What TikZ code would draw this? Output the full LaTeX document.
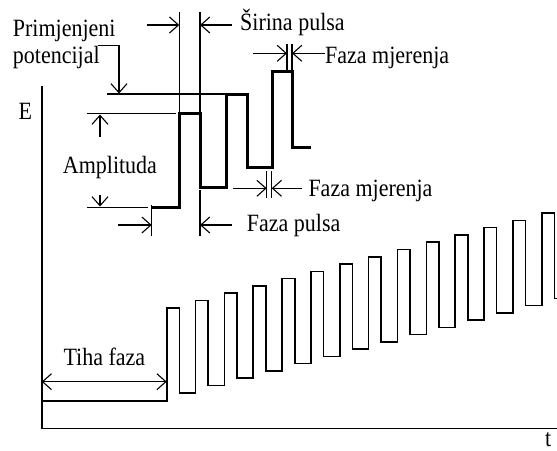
\documentclass[tikz,border=0pt]{standalone}
\usepackage{fontspec}
\usepackage{graphicx}
\setmainfont{Liberation Serif}
\usetikzlibrary{arrows.meta}
\newcommand{\tallt}[1]{\scalebox{1}[1.13]{#1}}
\begin{document}
\begin{tikzpicture}[x=1pt,y=-1pt,
  thinln/.style={line width=1.1pt},
  midln/.style={line width=1.6pt},
  thickln/.style={line width=3pt},
  arr/.style={thinln,-{Straight Barb[length=9pt,width=16pt,line width=1.1pt]}},
  darr/.style={thinln,{Straight Barb[length=9pt,width=16pt,line width=1.1pt]}-{Straight Barb[length=9pt,width=16pt,line width=1.1pt]}},
  lbl/.style={anchor=base west,inner sep=0pt,font=\fontsize{22}{26}\selectfont}]
\useasboundingbox (0,0) rectangle (557,450);

% labels
\node[lbl] (prim) at (12.7,36.7) {\tallt{Primjenjeni}};
\node[lbl] (pot) at (12.7,63.5) {\tallt{potencijal}};
\node[lbl] (sir) at (240,30.7) {\tallt{Širina pulsa}};
\node[lbl] (fm1) at (325,63.3) {\tallt{Faza mjerenja}};
\node[lbl] (amp) at (62.7,173.3) {\tallt{Amplituda}};
\node[lbl] (fm2) at (308.3,196.7) {\tallt{Faza mjerenja}};
\node[lbl] (fp) at (246.7,231.7) {\tallt{Faza pulsa}};
\node[lbl] (tiha) at (63.3,365) {\tallt{Tiha faza}};
\node[lbl] (E) at (18.3,119.3) {\tallt{E}};
\node[lbl] (t) at (545,446) {\tallt{t}};

% axes
\coordinate (ytop) at (41.7,86);
\coordinate (orig) at (41.7,428.3);
\coordinate (xend) at (557,428.3);
\draw[midln] (ytop) -- (orig) -- (xend);

% inset thick waveform
\draw[thickln] (151.7,207.3) -- (179.3,207.3) -- (179.3,113.3) -- (200,113.3)
  -- (200,187.7) -- (226,187.7) -- (226,94) -- (247.3,94) -- (247.3,167.7)
  -- (272.7,167.7) -- (272.7,71) -- (292,71) -- (292,147.7) -- (311,147.7);

% applied potential level and leader
\coordinate (lvlL) at (107,94);
\coordinate (lvlR) at (226,94);
\draw[thinln] (lvlL) -- (lvlR);
\coordinate (potA) at (98,45.7);
\coordinate (potB) at (119,45.7);
\coordinate (potC) at (119,93.5);
\draw[arr] (potA) -- (potB) -- (potC);

% pulse width
\coordinate (w1t) at (179.3,12.3);
\coordinate (w1b) at (179.3,113.3);
\coordinate (w2t) at (200,12.3);
\coordinate (w2b) at (200,113.3);
\draw[thinln] (w1t) -- (w1b);
\draw[thinln] (w2t) -- (w2b);
\coordinate (wa1) at (146.7,25);
\coordinate (wa1e) at (179.3,25);
\coordinate (wa2) at (231.7,25);
\coordinate (wa2e) at (200,25);
\draw[arr] (wa1) -- (wa1e);
\draw[arr] (wa2) -- (wa2e);

% amplitude
\coordinate (aT1) at (87,113.3);
\coordinate (aT2) at (176,113.3);
\coordinate (aB1) at (87,207.3);
\coordinate (aB2) at (148,207.3);
\draw[thinln] (aT1) -- (aT2);
\draw[thinln] (aB1) -- (aB2);
\coordinate (au1) at (100,136.7);
\coordinate (au2) at (100,114.5);
\coordinate (ad1) at (100,195);
\coordinate (ad2) at (100,206.5);
\draw[arr] (au1) -- (au2);
\draw[arr] (ad1) -- (ad2);

% faza mjerenja (top)
\coordinate (m1a) at (287,44);
\coordinate (m1ab) at (287,71);
\coordinate (m1b) at (292,44);
\coordinate (m1bb) at (292,71);
\draw[thinln] (m1a) -- (m1ab);
\draw[thinln] (m1b) -- (m1bb);
\coordinate (m1l) at (253.3,53.3);
\coordinate (m1le) at (287,53.3);
\coordinate (m1r) at (325,53.3);
\coordinate (m1re) at (292,53.3);
\draw[arr] (m1l) -- (m1le);
\draw[arr] (m1r) -- (m1re);

% faza mjerenja (middle)
\coordinate (m2a) at (266.7,171);
\coordinate (m2ab) at (266.7,198);
\coordinate (m2b) at (271.7,171);
\coordinate (m2bb) at (271.7,198);
\draw[thinln] (m2a) -- (m2ab);
\draw[thinln] (m2b) -- (m2bb);
\coordinate (m2l) at (233.3,188.3);
\coordinate (m2le) at (266.7,188.3);
\coordinate (m2r) at (301.7,188.3);
\coordinate (m2re) at (271.7,188.3);
\draw[arr] (m2l) -- (m2le);
\draw[arr] (m2r) -- (m2re);

% faza pulsa
\coordinate (p1t) at (151.7,205);
\coordinate (p1b) at (151.7,235.7);
\coordinate (p2t) at (200,190);
\coordinate (p2b) at (200,235.7);
\draw[thinln] (p1t) -- (p1b);
\draw[thinln] (p2t) -- (p2b);
\coordinate (pl) at (118,225);
\coordinate (ple) at (151.7,225);
\coordinate (pr) at (232,225);
\coordinate (pre) at (200,225);
\draw[arr] (pl) -- (ple);
\draw[arr] (pr) -- (pre);

% tiha faza
\coordinate (tl) at (41.7,381.7);
\coordinate (tr) at (166.7,381.7);
\draw[darr] (tl) -- (tr);

% main waveform
\draw[midln,line join=miter] (41.7,400.7) -- (166.7,400.7)
  \foreach \k in {0,...,12} {
    -- ({166.7+28.85*\k},{307.7-7.28*\k})
    -- ({179.3+28.85*\k},{307.7-7.28*\k})
    -- ({179.3+28.85*\k},{392.7-7.26*\k})
    -- ({166.7+28.85*(\k+1)},{392.7-7.26*\k})
  }
  -- ({166.7+28.85*13},{307.7-7.28*13})
  -- ({179.3+28.85*13},{307.7-7.28*13})
  -- ({179.3+28.85*13},{392.7-7.26*13})
  -- (558,{392.7-7.26*13});
\end{tikzpicture}
\end{document}
